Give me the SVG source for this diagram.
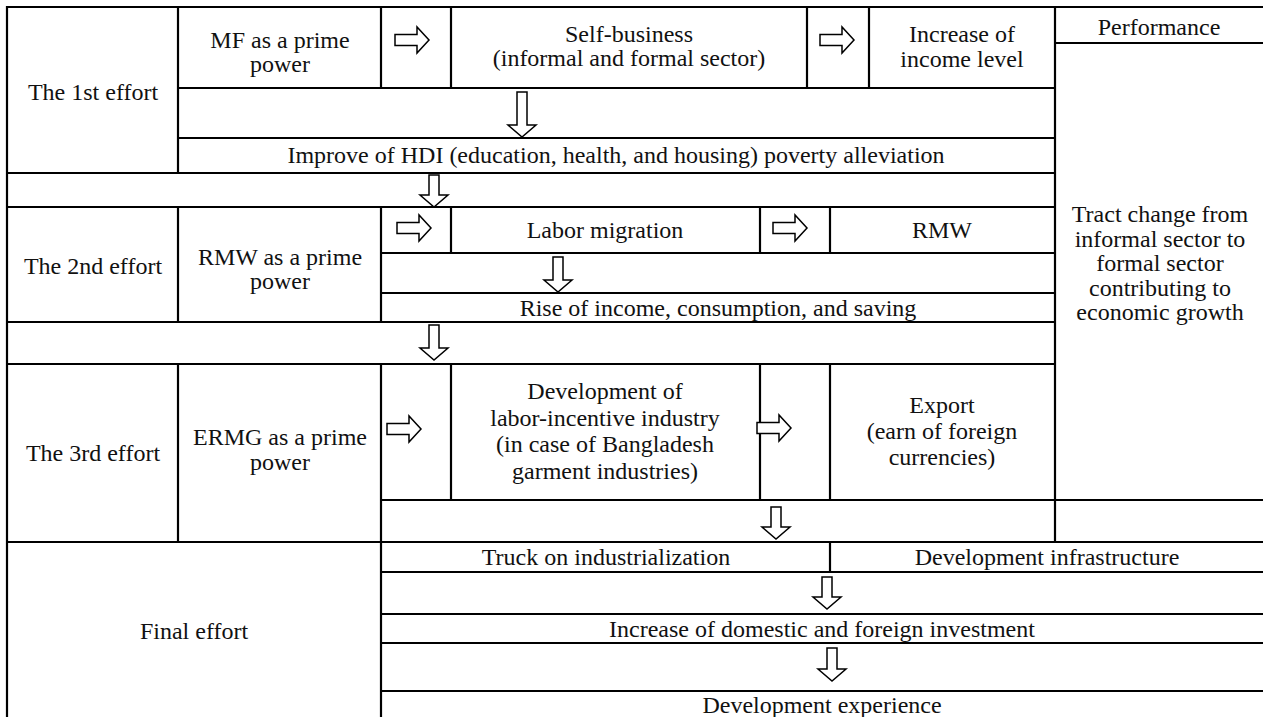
<svg xmlns="http://www.w3.org/2000/svg" width="1263" height="717" viewBox="0 0 1263 717">
<style>
.g line{stroke:#000;stroke-width:2.2}
text{font-family:"Liberation Serif","Times New Roman",serif;font-size:24px;fill:#111;text-anchor:middle}
.ar{fill:#fff;stroke:#000;stroke-width:1.5;stroke-linejoin:miter}
</style>
<defs>
<path id="ra" d="M0,-5.5 H22 V-13 L34,0 L22,13 V5.5 H0 Z"/>
</defs>
<rect width="1263" height="717" fill="#fff"/>
<g class="g" id="grid">
<line x1="6" y1="7" x2="1263" y2="7"/>
<line x1="1055" y1="43" x2="1263" y2="43"/>
<line x1="178" y1="88" x2="1055" y2="88"/>
<line x1="178" y1="138" x2="1055" y2="138"/>
<line x1="6" y1="173" x2="1055" y2="173"/>
<line x1="6" y1="207" x2="1055" y2="207"/>
<line x1="381" y1="253" x2="1055" y2="253"/>
<line x1="381" y1="293" x2="1055" y2="293"/>
<line x1="6" y1="322" x2="1055" y2="322"/>
<line x1="6" y1="364" x2="1055" y2="364"/>
<line x1="381" y1="500" x2="1263" y2="500"/>
<line x1="6" y1="542" x2="1263" y2="542"/>
<line x1="381" y1="572" x2="1263" y2="572"/>
<line x1="381" y1="614" x2="1263" y2="614"/>
<line x1="381" y1="643" x2="1263" y2="643"/>
<line x1="381" y1="691" x2="1263" y2="691"/>
<line x1="7" y1="6" x2="7" y2="717"/>
<line x1="178" y1="7" x2="178" y2="173"/>
<line x1="178" y1="207" x2="178" y2="322"/>
<line x1="178" y1="364" x2="178" y2="542"/>
<line x1="381" y1="7" x2="381" y2="88"/>
<line x1="381" y1="207" x2="381" y2="322"/>
<line x1="381" y1="364" x2="381" y2="717"/>
<line x1="451" y1="7" x2="451" y2="88"/>
<line x1="451" y1="207" x2="451" y2="253"/>
<line x1="451" y1="364" x2="451" y2="500"/>
<line x1="807" y1="7" x2="807" y2="88"/>
<line x1="869" y1="7" x2="869" y2="88"/>
<line x1="760" y1="207" x2="760" y2="253"/>
<line x1="760" y1="364" x2="760" y2="500"/>
<line x1="830" y1="207" x2="830" y2="253"/>
<line x1="830" y1="364" x2="830" y2="500"/>
<line x1="830" y1="542" x2="830" y2="572"/>
<line x1="1055" y1="7" x2="1055" y2="542"/>
</g>
<g id="effort1"><text x="93" y="100">The 1st effort</text></g>
<g id="mf"><text x="280" y="48">MF as a prime</text><text x="280" y="72">power</text></g>
<g id="selfbusiness"><text x="629" y="42">Self-business</text><text x="629" y="66">(informal and formal sector)</text></g>
<g id="income"><text x="962" y="42">Increase of</text><text x="962" y="67">income level</text></g>
<g id="performance"><text x="1159" y="35">Performance</text></g>
<g id="hdi"><text x="616" y="163">Improve of HDI (education, health, and housing) poverty alleviation</text></g>
<g id="effort2"><text x="93" y="274">The 2nd effort</text></g>
<g id="rmwpower"><text x="280" y="265">RMW as a prime</text><text x="280" y="289">power</text></g>
<g id="labor"><text x="605" y="238">Labor migration</text></g>
<g id="rmw"><text x="942" y="238">RMW</text></g>
<g id="rise"><text x="718" y="316">Rise of income, consumption, and saving</text></g>
<g id="tract"><text x="1160" y="222">Tract change from</text><text x="1160" y="246.5">informal sector to</text><text x="1160" y="271">formal sector</text><text x="1160" y="295.5">contributing to</text><text x="1160" y="320">economic growth</text></g>
<g id="effort3"><text x="93" y="461">The 3rd effort</text></g>
<g id="ermg"><text x="280" y="445">ERMG as a prime</text><text x="280" y="470">power</text></g>
<g id="industry"><text x="605" y="399">Development of</text><text x="605" y="426">labor-incentive industry</text><text x="605" y="452">(in case of Bangladesh</text><text x="605" y="479">garment industries)</text></g>
<g id="export"><text x="942" y="413">Export</text><text x="942" y="439">(earn of foreign</text><text x="942" y="465">currencies)</text></g>
<g id="final"><text x="194" y="639">Final effort</text></g>
<g id="truck"><text x="606" y="565">Truck on industrialization</text></g>
<g id="infra"><text x="1047" y="565">Development infrastructure</text></g>
<g id="investment"><text x="822" y="637">Increase of domestic and foreign investment</text></g>
<g id="experience"><text x="822" y="713">Development experience</text></g>
<g id="connectors">
<use href="#ra" class="ar" x="395" y="40"/>
<use href="#ra" class="ar" x="820" y="40"/>
<use href="#ra" class="ar" x="397" y="228"/>
<use href="#ra" class="ar" x="773" y="228"/>
<use href="#ra" class="ar" x="387" y="429"/>
<use href="#ra" class="ar" x="757" y="428"/>
<path class="ar" d="M517,92 V125 H508 L522,137 L536,125 H527 V92 Z"/>
<path class="ar" d="M429,175 V195 H420 L434,207 L448,195 H439 V175 Z"/>
<path class="ar" d="M553,257 V280 H544 L558,292 L572,280 H563 V257 Z"/>
<path class="ar" d="M429,325 V348 H420 L434,360 L448,348 H439 V325 Z"/>
<path class="ar" d="M771,507 V527 H762 L776,539 L790,527 H781 V507 Z"/>
<path class="ar" d="M822,577 V597 H813 L827,609 L841,597 H832 V577 Z"/>
<path class="ar" d="M827,648 V669 H818 L832,681 L846,669 H837 V648 Z"/>
</g>
</svg>
